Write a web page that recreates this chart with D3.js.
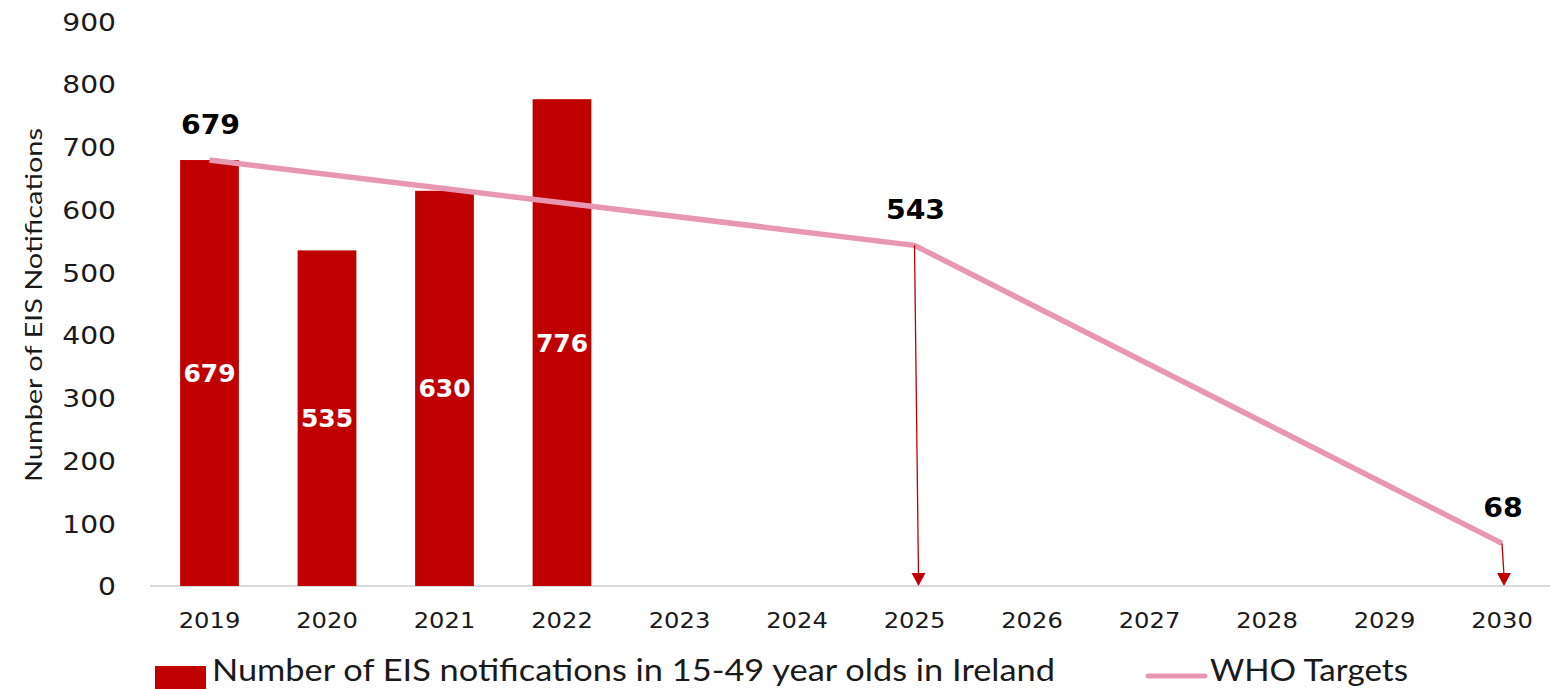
<!DOCTYPE html>
<html>
<head>
<meta charset="utf-8">
<script src="https://cdn.jsdelivr.net/npm/d3@7"></script>
<style>
  html, body { margin: 0; padding: 0; background: #ffffff; overflow: hidden; }
  svg { display: block; }
</style>
</head>
<body>
<svg id="chart" width="1550" height="689"></svg>
<script>
// Chart data
const years = ["2019", "2020", "2021", "2022", "2023", "2024", "2025", "2026", "2027", "2028", "2029", "2030"];
const barYears = ["2019", "2020", "2021", "2022"];
const notifications = [679, 535, 630, 776];
const targetYears = ["2019", "2025", "2030"];
const targetValues = [679, 543, 68];
const arrowYears = ["2025", "2030"];
const yTicks = [0, 100, 200, 300, 400, 500, 600, 700, 800, 900];
const barSeriesName = "Number of EIS notifications in 15-49 year olds in Ireland";
const lineSeriesName = "WHO Targets";
const yTitle = "Number of EIS Notifications";

const barColor = "#C00000";
const lineColor = "#E897B3";
const arrowColor = "#C00000";

const svg = d3.select("#chart");

const x = d3.scaleBand()
  .domain(years)
  .range([150.75, 1560.75])
  .paddingInner(0.5)
  .paddingOuter(0.25);

const y = d3.scaleLinear()
  .domain([0, 900])
  .range([586, 21.4]);

const cx = d => x(d) + x.bandwidth() / 2;

// horizontal stretch helper for text anchored at its x attribute
function stretch(sel, sx) {
  sel.attr("transform", function () {
    const t = d3.select(this);
    const ax = +t.attr("x") || 0;
    return `translate(${ax},0) scale(${sx},1) translate(${-ax},0)`;
  });
}

// Y axis (labels only)
const yAxis = svg.append("g")
  .attr("transform", "translate(150,0)")
  .call(d3.axisLeft(y).tickValues(yTicks).tickSize(0).tickPadding(34));
yAxis.select(".domain").remove();
yAxis.selectAll("text")
  .attr("font-family", "DejaVu Sans, Verdana, sans-serif")
  .attr("font-size", 24.5)
  .attr("fill", "#1a1a1a")
  .attr("dy", "0.36em")
  .each(function () { d3.select(this).attr("x", -34); })
  .call(stretch, 1.15);

// X axis
const xAxis = svg.append("g")
  .attr("transform", `translate(0,${y(0)})`)
  .call(d3.axisBottom(x).tickSize(0).tickPadding(26));
xAxis.select(".domain")
  .attr("d", `M150,0H1550`)
  .attr("stroke", "#d9d9d9")
  .attr("stroke-width", 2);
xAxis.selectAll("text")
  .attr("font-family", "DejaVu Sans, Verdana, sans-serif")
  .attr("font-size", 22)
  .attr("fill", "#1a1a1a")
  .attr("dy", "0.71em")
  .call(stretch, 1.1);

// Y axis title
svg.append("text")
  .attr("transform", `translate(42,${(128 + 482) / 2}) rotate(-90)`)
  .attr("text-anchor", "middle")
  .attr("font-family", "Lato, Open Sans, sans-serif")
  .attr("font-size", 23)
  .attr("fill", "#1a1a1a")
  .attr("textLength", 354)
  .attr("lengthAdjust", "spacingAndGlyphs")
  .text(yTitle);

// Bars
const bars = barYears.map((yr, i) => ({ year: yr, value: notifications[i] }));
svg.append("g").selectAll("rect")
  .data(bars)
  .join("rect")
  .attr("x", d => x(d.year))
  .attr("y", d => y(d.value))
  .attr("width", x.bandwidth())
  .attr("height", d => y(0) - y(d.value))
  .attr("fill", barColor);

// Bar value labels (white, centered)
svg.append("g").selectAll("text")
  .data(bars)
  .join("text")
  .attr("x", d => cx(d.year))
  .attr("y", d => (y(d.value) + y(0)) / 2)
  .attr("dy", "0.36em")
  .attr("text-anchor", "middle")
  .attr("font-family", "DejaVu Sans, Verdana, sans-serif")
  .attr("font-weight", "bold")
  .attr("font-size", 25)
  .attr("fill", "#ffffff")
  .text(d => d.value);

// Target line
const targets = targetYears.map((yr, i) => ({ year: yr, value: targetValues[i] }));
svg.append("path")
  .datum(targets)
  .attr("fill", "none")
  .attr("stroke", lineColor)
  .attr("stroke-width", 5.5)
  .attr("stroke-linejoin", "round")
  .attr("d", d3.line().x(d => cx(d.year)).y(d => y(d.value)));

// Drop arrows from targets to the axis
const arrows = targets.filter(d => arrowYears.includes(d.year));
const arrowG = svg.append("g");
arrows.forEach((d, i) => {
  const x0 = cx(d.year);
  const x1 = x0 + (i === 0 ? 4 : 2);
  const yTip = y(0);
  arrowG.append("line")
    .attr("x1", x0).attr("y1", y(d.value))
    .attr("x2", x1).attr("y2", yTip - 10)
    .attr("stroke", arrowColor)
    .attr("stroke-width", 1.3);
  arrowG.append("path")
    .attr("d", `M${x1 - 7},${yTip - 13}L${x1 + 7},${yTip - 13}L${x1},${yTip}Z`)
    .attr("fill", arrowColor);
});

// Target value labels (bold, above points)
svg.append("g").selectAll("text")
  .data(targets)
  .join("text")
  .attr("x", d => cx(d.year) + 1)
  .attr("y", d => y(d.value) - 26)
  .attr("text-anchor", "middle")
  .attr("font-family", "DejaVu Sans, Verdana, sans-serif")
  .attr("font-weight", "bold")
  .attr("font-size", 27)
  .attr("fill", "#000000")
  .text(d => d.value)
  .call(stretch, 1.05);

// Legend
const legend = svg.append("g");
legend.append("rect")
  .attr("x", 155).attr("y", 666)
  .attr("width", 51).attr("height", 24)
  .attr("fill", barColor);
legend.append("text")
  .attr("x", 212).attr("y", 681)
  .attr("font-family", "Lato, Open Sans, sans-serif")
  .attr("font-size", 30)
  .attr("fill", "#1a1a1a")
  .attr("textLength", 843)
  .attr("lengthAdjust", "spacingAndGlyphs")
  .text(barSeriesName);
legend.append("line")
  .attr("x1", 1148).attr("x2", 1205)
  .attr("y1", 676).attr("y2", 676)
  .attr("stroke", lineColor)
  .attr("stroke-width", 5)
  .attr("stroke-linecap", "round");
legend.append("text")
  .attr("x", 1210).attr("y", 681)
  .attr("font-family", "Lato, Open Sans, sans-serif")
  .attr("font-size", 30)
  .attr("fill", "#1a1a1a")
  .attr("textLength", 198)
  .attr("lengthAdjust", "spacingAndGlyphs")
  .text(lineSeriesName);
</script>
</body>
</html>
